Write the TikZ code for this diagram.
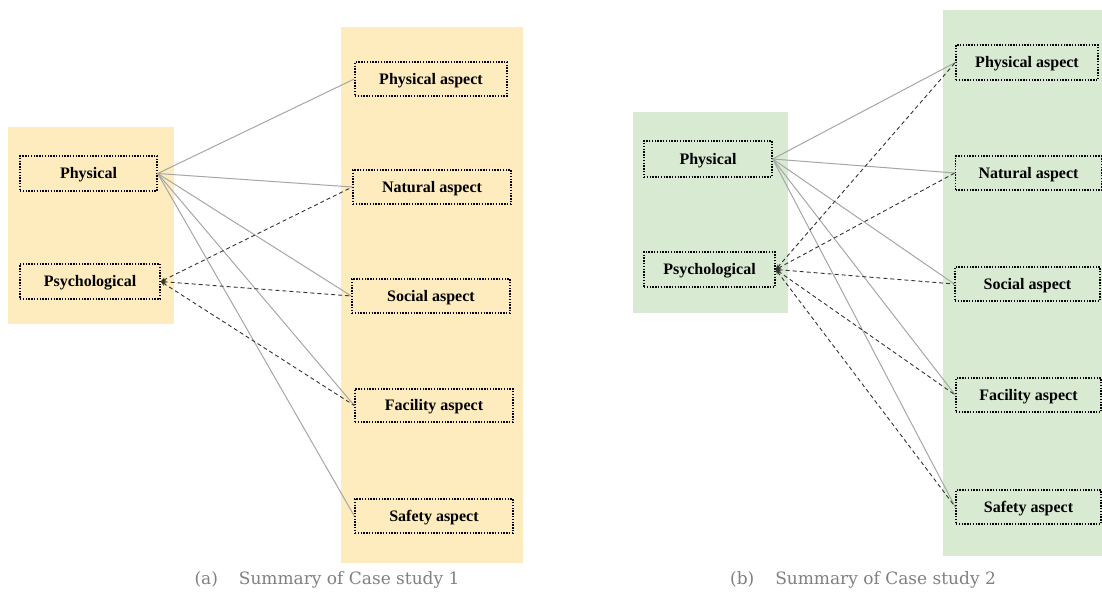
\documentclass[tikz,border=0pt]{standalone}
\usepackage{fontspec}
\setmainfont{Liberation Serif}
\newfontfamily\capfont{DejaVu Serif}
\usetikzlibrary{arrows.meta}
\definecolor{bgyellow}{HTML}{FEECBE}
\definecolor{bggreen}{HTML}{D9EAD3}
\definecolor{linegray}{HTML}{A6A6A6}
\definecolor{dashdark}{HTML}{333333}
\definecolor{capgray}{HTML}{808080}
\tikzset{
  box/.style={draw=black, line width=1.4pt, dash pattern=on 1.4pt off 1.4pt,
    inner sep=0pt, font=\fontsize{16}{18}\selectfont\bfseries, text=black,
    text depth=1pt},
  solidlink/.style={draw=linegray, line width=1pt},
  dashlink/.style={draw=dashdark, line width=0.9pt, dash pattern=on 4pt off 3pt,
    {Stealth[length=5pt,width=4pt]}-},
  caption/.style={text=capgray, font=\capfont\fontsize{17}{20}\selectfont, anchor=base}
}
\begin{document}
\begin{tikzpicture}[x=1pt,y=-1pt]
\useasboundingbox (0,0) rectangle (1102,594);
% backgrounds
\fill[bgyellow] (8,127) rectangle (174,324);
\fill[bgyellow] (341,27) rectangle (523,563);
\fill[bggreen] (633,112) rectangle (788,313);
\fill[bggreen] (943,10) rectangle (1102,556);
% panel (a)
\node[box, minimum width=137pt, minimum height=35pt] (aph) at (88.5,173.5) {Physical};
\node[box, minimum width=140pt, minimum height=35pt] (aps) at (90,281.5) {Psychological};
\node[box, minimum width=152pt, minimum height=34pt] (a1) at (431,79) {Physical aspect};
\node[box, minimum width=158pt, minimum height=34pt] (a2) at (432,187) {Natural aspect};
\node[box, minimum width=158pt, minimum height=34pt] (a3) at (431,296) {Social aspect};
\node[box, minimum width=158pt, minimum height=33pt] (a4) at (434,405.5) {Facility aspect};
\node[box, minimum width=158pt, minimum height=34pt] (a5) at (434,516) {Safety aspect};
\foreach \t in {a1,a2,a3,a4,a5} \draw[solidlink] (aph.east) -- (\t.west);
\foreach \t in {a2,a3,a4} \draw[dashlink] (aps.east) -- (\t.west);
% panel (b)
\node[box, minimum width=128pt, minimum height=36pt] (bph) at (708,159) {Physical};
\node[box, minimum width=131pt, minimum height=35pt] (bps) at (709.5,269.5) {Psychological};
\node[box, minimum width=142pt, minimum height=35pt] (b1) at (1027,62.5) {Physical aspect};
\node[box, minimum width=146pt, minimum height=34pt] (b2) at (1028.5,173) {Natural aspect};
\node[box, minimum width=145pt, minimum height=34pt] (b3) at (1027.5,284) {Social aspect};
\node[box, minimum width=145pt, minimum height=34pt] (b4) at (1028.5,395) {Facility aspect};
\node[box, minimum width=145pt, minimum height=34pt] (b5) at (1028.5,507) {Safety aspect};
\foreach \t in {b1,b2,b3,b4,b5} \draw[solidlink] (bph.east) -- (\t.west);
\foreach \t in {b1,b2,b3,b4,b5} \draw[dashlink] (bps.east) -- (\t.west);
% captions
\node[caption] (capa) at (327,584) {(a)\hspace{21pt}Summary of Case study 1};
\node[caption] (capb) at (863,584) {(b)\hspace{21pt}Summary of Case study 2};
\end{tikzpicture}
\end{document}
